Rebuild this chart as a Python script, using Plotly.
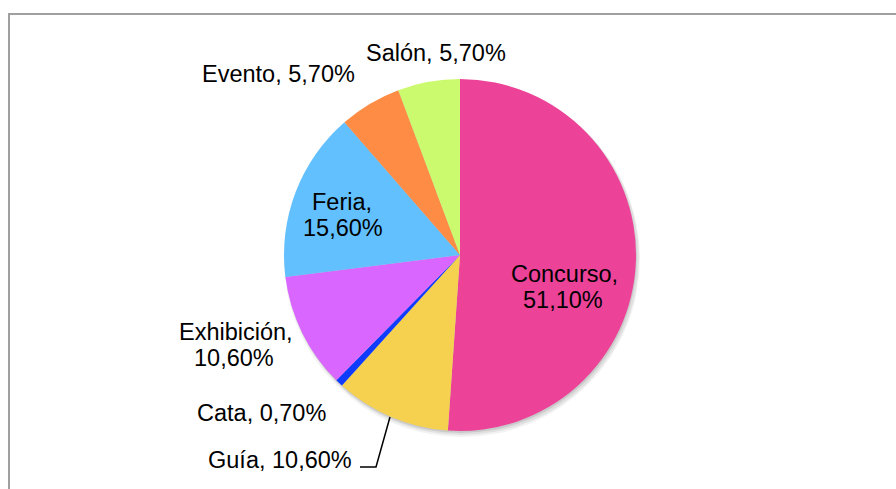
import plotly.graph_objects as go

# ---- data ----
categories = ["Concurso", "Guía", "Cata", "Exhibición", "Feria", "Evento", "Salón"]
values = [51.1, 10.6, 0.7, 10.6, 15.6, 5.7, 5.7]
colors = ["#EC4399", "#F5D14F", "#0F3BFF", "#D966FF", "#62C0FF", "#FF8C45", "#CCFA6E"]

W, H = 896, 489

def px(x):
    return x / W

def py(y):
    return 1 - y / H

# pie geometry (pixels)
CX, CY, R = 460, 255, 176

def dom(cx, cy, r):
    return dict(x=[px(cx - r), px(cx + r)], y=[py(cy + r), py(cy - r)])

fig = go.Figure()

# soft shadow layers
for dx, dy, dr, a in [(2, 4, 2, 0.05), (2, 3, 1, 0.07), (1, 2, 0, 0.10)]:
    fig.add_trace(go.Pie(values=[1], marker=dict(colors=[f"rgba(0,0,0,{a})"], line=dict(width=0)),
                         textinfo="none", hoverinfo="skip", showlegend=False, sort=False,
                         domain=dom(CX + dx, CY + dy, R + dr)))

fig.add_trace(go.Pie(
    labels=categories, values=values, sort=False, direction="clockwise", rotation=0,
    marker=dict(colors=colors, line=dict(width=0)),
    textinfo="none", showlegend=False,
    domain=dom(CX, CY, R),
))

def fmt(v):
    return f"{v:.2f}".replace(".", ",") + "%"

# label placement: pixel centre of each text line; two-line labels give both lines
label_pos = {
    "Concurso": [(564, 274), (563, 300)],
    "Guía": [(280, 460)],
    "Cata": [(261, 413)],
    "Exhibición": [(236, 332), (234, 358)],
    "Feria": [(342, 202), (343, 228)],
    "Evento": [(278, 74)],
    "Salón": [(436, 53)],
}

FONT = dict(family="Liberation Sans, Arial, sans-serif", size=23.5, color="black")

anns = []
for c, v in zip(categories, values):
    pos = label_pos[c]
    lines = [f"{c}, {fmt(v)}"] if len(pos) == 1 else [f"{c},", fmt(v)]
    for (x, y), t in zip(pos, lines):
        anns.append(dict(x=px(x), y=py(y), xref="paper", yref="paper", text=t,
                         showarrow=False, xanchor="center", yanchor="middle", font=FONT))

shapes = [
    # chart frame
    dict(type="rect", xref="paper", yref="paper", x0=px(9), y0=py(500), x1=px(910), y1=py(14),
         line=dict(color="#A0A0A0", width=2), fillcolor="rgba(0,0,0,0)", layer="below"),
    # Guía leader line
    dict(type="path", xref="paper", yref="paper",
         path=f"M {px(390)} {py(417)} L {px(376)} {py(467)} L {px(360)} {py(467)}",
         line=dict(color="black", width=1.5)),
]

fig.update_layout(
    width=W, height=H, margin=dict(l=0, r=0, t=0, b=0),
    paper_bgcolor="white", plot_bgcolor="white",
    annotations=anns, shapes=shapes,
)

fig.write_html("out.html")
